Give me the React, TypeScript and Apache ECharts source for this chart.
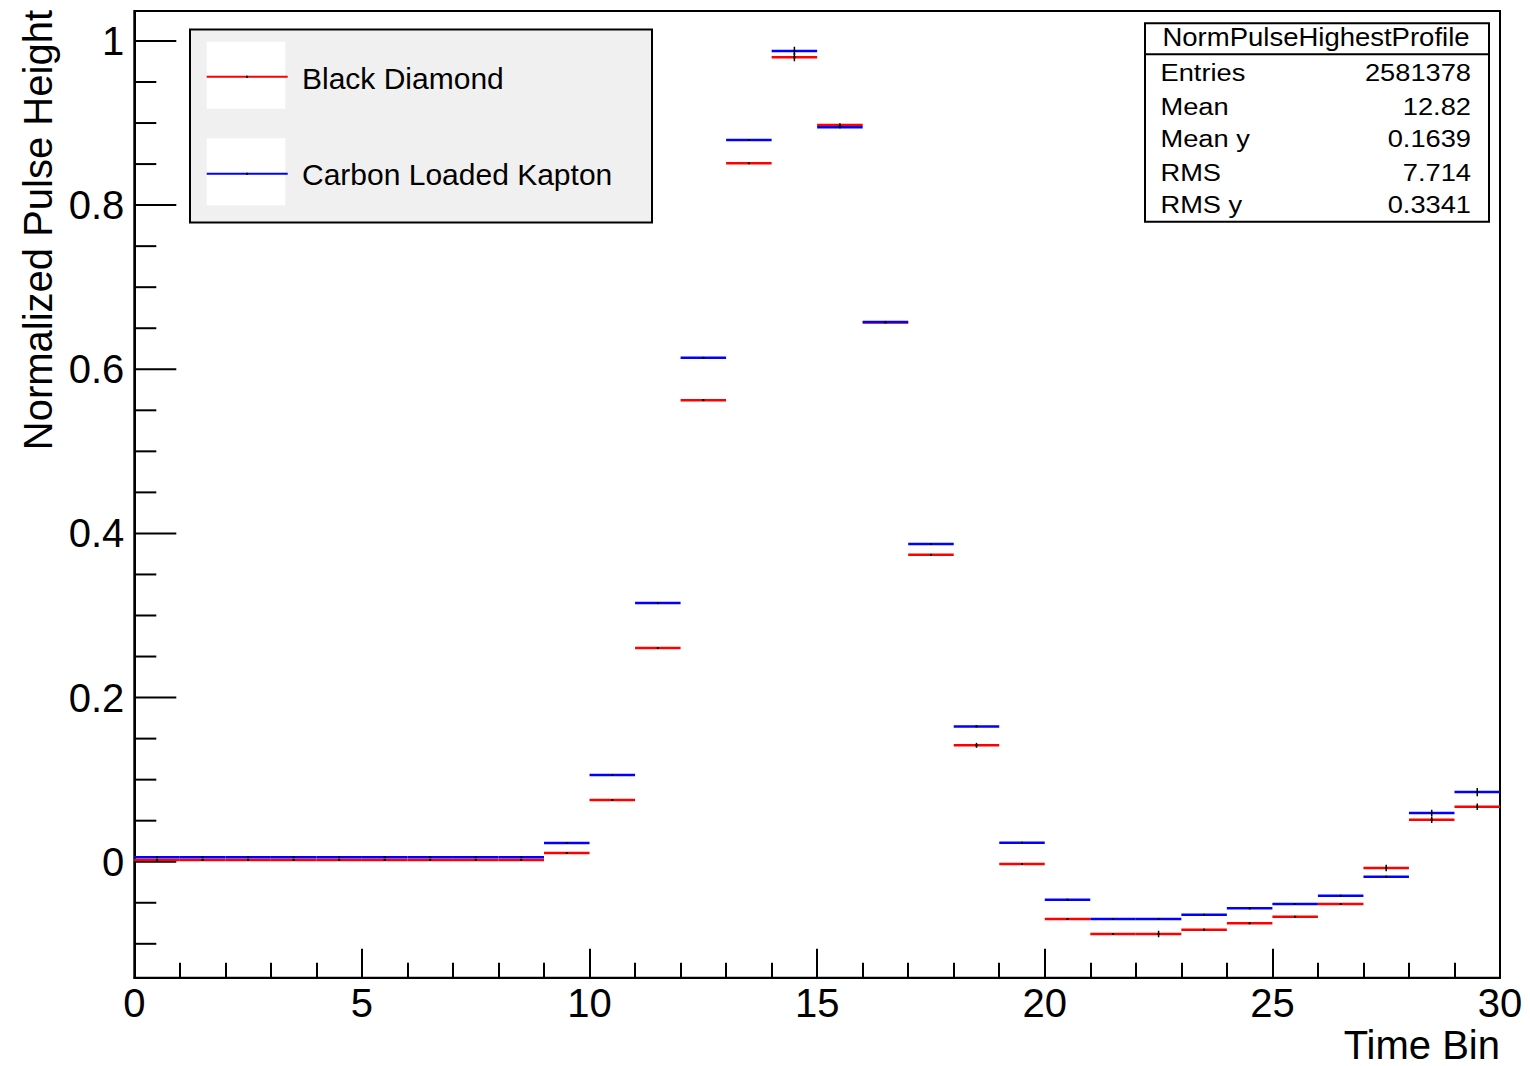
import React, { useEffect, useRef } from "react";
import * as echarts from "echarts";

// ---- data ----
const timeBins = [0, 1, 2, 3, 4, 5, 6, 7, 8, 9, 10, 11, 12, 13, 14, 15, 16, 17, 18, 19, 20, 21, 22, 23, 24, 25, 26, 27, 28, 29];
const binWidth = 1;

const blackDiamond = [
  0.002, 0.002, 0.002, 0.002, 0.002, 0.002, 0.002, 0.002, 0.002, 0.0106,
  0.0752, 0.2603, 0.5624, 0.851, 0.9802, 0.8977, 0.657, 0.3739, 0.1418, -0.0028,
  -0.0698, -0.0881, -0.0881, -0.0828, -0.075, -0.067, -0.0515, -0.0077, 0.0512, 0.067,
];
const blackDiamondErr = [
  0.001, 0.001, 0.001, 0.001, 0.001, 0.001, 0.001, 0.001, 0.001, 0.001,
  0.001, 0.001, 0.001, 0.001, 0.005, 0.002, 0.001, 0.001, 0.003, 0.001,
  0.001, 0.001, 0.004, 0.001, 0.001, 0.001, 0.001, 0.004, 0.004, 0.004,
];
const carbonKapton = [
  0.0054, 0.0054, 0.0054, 0.0054, 0.0054, 0.0054, 0.0054, 0.0054, 0.0054, 0.0228,
  0.1056, 0.3151, 0.6139, 0.8794, 0.9878, 0.8949, 0.6577, 0.387, 0.1649, 0.0231,
  -0.0463, -0.0698, -0.0698, -0.0646, -0.0568, -0.0515, -0.0414, -0.0183, 0.0593, 0.0849,
];
const carbonKaptonErr = [
  0.001, 0.001, 0.001, 0.001, 0.001, 0.001, 0.001, 0.001, 0.001, 0.001,
  0.001, 0.001, 0.001, 0.001, 0.005, 0.001, 0.001, 0.001, 0.001, 0.001,
  0.001, 0.001, 0.001, 0.001, 0.001, 0.001, 0.001, 0.001, 0.004, 0.005,
];

const seriesNames = ["Black Diamond", "Carbon Loaded Kapton"];
const seriesColors = ["#ff0000", "#0000ff"];

const xMin = 0;
const xMax = 30;
const xInterval = 5;
const yMin = -0.1413;
const yMax = 1.0365;
const yMajorTicks = [0, 0.2, 0.4, 0.6, 0.8, 1.0];
const yMinorTicks = [-0.1, -0.05, 0.05, 0.1, 0.15, 0.25, 0.3, 0.35, 0.45, 0.5, 0.55, 0.65, 0.7, 0.75, 0.85, 0.9, 0.95];

const statsTitle = "NormPulseHighestProfile";
const statsLabels = ["Entries", "Mean", "Mean y", "RMS", "RMS y"];
const statsValues = ["2581378", "12.82", "0.1639", "7.714", "0.3341"];

const xTitle = "Time Bin";
const yTitle = "Normalized Pulse Height";

const FONT = "'Liberation Sans', Arial, Helvetica, sans-serif";

function binSeries(name: string, values: number[], errs: number[], color: string) {
  return {
    type: "custom",
    name,
    coordinateSystem: "cartesian2d",
    silent: true,
    clip: true,
    data: timeBins.map((b, i) => [b, values[i], errs[i]]),
    renderItem: (_params: any, api: any) => {
      const lo = api.value(0);
      const v = api.value(1);
      const e = api.value(2);
      const a = api.coord([lo, v]);
      const b = api.coord([lo + binWidth, v]);
      const c = api.coord([lo + binWidth / 2, v]);
      const t = api.coord([lo + binWidth / 2, v + e]);
      const d = api.coord([lo + binWidth / 2, v - e]);
      return {
        type: "group",
        children: [
          { type: "line", shape: { x1: a[0], y1: a[1], x2: b[0], y2: b[1] }, style: { stroke: color, lineWidth: 2.5 } },
          { type: "line", shape: { x1: c[0], y1: t[1], x2: c[0], y2: d[1] }, style: { stroke: "#000", lineWidth: 1.5 } },
          { type: "rect", shape: { x: c[0] - 1, y: c[1] - 1, width: 2, height: 2 }, style: { fill: "#000" } },
        ],
      };
    },
  };
}

function tickSeries(ticks: number[], len: number) {
  return {
    type: "custom",
    coordinateSystem: "cartesian2d",
    silent: true,
    data: ticks.map((v) => [xMin, v]),
    renderItem: (_params: any, api: any) => {
      const q = api.coord([api.value(0), api.value(1)]);
      return {
        type: "line",
        shape: { x1: q[0], y1: q[1], x2: q[0] + len, y2: q[1] },
        style: { stroke: "#000", lineWidth: 2 },
      };
    },
  };
}

export default function App() {
  const ref = useRef<HTMLDivElement>(null);

  useEffect(() => {
    if (!ref.current) return;
    const chart = echarts.init(ref.current, undefined, { renderer: "svg" });

    const legendItems = seriesNames.map((n, i) => {
      const boxY = [41.7, 138.3][i];
      const lineY = [76.7, 173.7][i];
      const textY = [78, 174.5][i];
      return [
        { type: "rect", shape: { x: 206.7, y: boxY, width: 78.6, height: 67 }, style: { fill: "#ffffff" }, z: 101 },
        { type: "line", shape: { x1: 206.7, y1: lineY, x2: 287.7, y2: lineY }, style: { stroke: seriesColors[i], lineWidth: 2 }, z: 102 },
        { type: "rect", shape: { x: 246, y: lineY - 1, width: 2, height: 2 }, style: { fill: "#000" }, z: 103 },
        {
          type: "text",
          x: 302,
          y: textY,
          z: 102,
          style: { text: n, fontSize: 30, fontFamily: FONT, fill: "#000", textAlign: "left", textVerticalAlign: "middle" },
        },
      ];
    }).flat();

    const statsRowY = [73, 107, 138.5, 172.5, 205];
    const statsItems = statsLabels.map((l, i) => [
      {
        type: "text", x: 1160.5, y: statsRowY[i], scaleX: 1.16, z: 102,
        style: { text: l, fontSize: 23.5, fontFamily: FONT, fill: "#000", textAlign: "left", textVerticalAlign: "middle" },
      },
      {
        type: "text", x: 1471, y: statsRowY[i], scaleX: 1.16, z: 102,
        style: { text: statsValues[i], fontSize: 23.5, fontFamily: FONT, fill: "#000", textAlign: "right", textVerticalAlign: "middle" },
      },
    ]).flat();

    const option: any = {
      animation: false,
      backgroundColor: "#ffffff",
      textStyle: { fontFamily: FONT },
      grid: {
        left: 134.3,
        right: 30,
        top: 11,
        bottom: 88.3,
        show: true,
        borderColor: "#000",
        borderWidth: 2,
        backgroundColor: "transparent",
        containLabel: false,
        outerBoundsMode: "none",
      },
      xAxis: {
        type: "value",
        min: xMin,
        max: xMax,
        interval: xInterval,
        axisLine: { show: true, onZero: false, lineStyle: { color: "#000", width: 2 } },
        axisTick: { show: true, inside: true, length: 29, lineStyle: { color: "#000", width: 2 } },
        minorTick: { show: true, splitNumber: 5, length: 15, lineStyle: { color: "#000", width: 2 } },
        splitLine: { show: false },
        minorSplitLine: { show: false },
        axisLabel: { fontSize: 40, color: "#000", fontFamily: FONT, margin: 5 },
      },
      yAxis: {
        type: "value",
        min: yMin,
        max: yMax,
        splitNumber: 5,
        axisLine: { show: true, onZero: false, lineStyle: { color: "#000", width: 2 } },
        axisTick: { show: false },
        minorTick: { show: false },
        splitLine: { show: false },
        axisLabel: {
          fontSize: 40,
          color: "#000",
          fontFamily: FONT,
          margin: 10,
          showMinLabel: false,
          showMaxLabel: false,
          formatter: (v: number) => {
            const k = v / 0.2;
            if (Math.abs(k - Math.round(k)) > 1e-6) return "";
            return String(Math.round(k * 2) / 10);
          },
        },
      },
      series: [
        tickSeries(yMajorTicks, 42),
        tickSeries(yMinorTicks, 22),
        binSeries(seriesNames[0], blackDiamond, blackDiamondErr, seriesColors[0]),
        binSeries(seriesNames[1], carbonKapton, carbonKaptonErr, seriesColors[1]),
      ],
      graphic: [
        // axis titles
        {
          type: "text",
          x: 38,
          y: 10,
          rotation: Math.PI / 2,
          style: { text: yTitle, fontSize: 40, lineHeight: 40, fontFamily: FONT, fill: "#000", textAlign: "right", textVerticalAlign: "middle" },
        },
        {
          type: "text",
          x: 1500,
          y: 1045,
          style: { text: xTitle, fontSize: 40, lineHeight: 40, fontFamily: FONT, fill: "#000", textAlign: "right", textVerticalAlign: "middle" },
        },
        // legend
        {
          type: "rect",
          shape: { x: 190, y: 29.5, width: 462, height: 193 },
          style: { fill: "#f0f0f0", stroke: "#000", lineWidth: 2 },
          z: 100,
        },
        ...legendItems,
        // stats box
        {
          type: "rect",
          shape: { x: 1145, y: 23.3, width: 344, height: 198.4 },
          style: { fill: "#ffffff", stroke: "#000", lineWidth: 2 },
          z: 100,
        },
        {
          type: "line",
          shape: { x1: 1145, y1: 54.3, x2: 1489, y2: 54.3 },
          style: { stroke: "#000", lineWidth: 2 },
          z: 101,
        },
        {
          type: "text",
          x: 1316,
          y: 37.5,
          scaleX: 1.1,
          z: 102,
          style: { text: statsTitle, fontSize: 25, fontFamily: FONT, fill: "#000", textAlign: "center", textVerticalAlign: "middle" },
        },
        ...statsItems,
      ],
    };

    chart.setOption(option);
    return () => chart.dispose();
  }, []);

  return (
    <div
      ref={ref}
      style={{ position: "absolute", left: 0, top: 0, width: 1530, height: 1066, background: "#fff" }}
    />
  );
}
